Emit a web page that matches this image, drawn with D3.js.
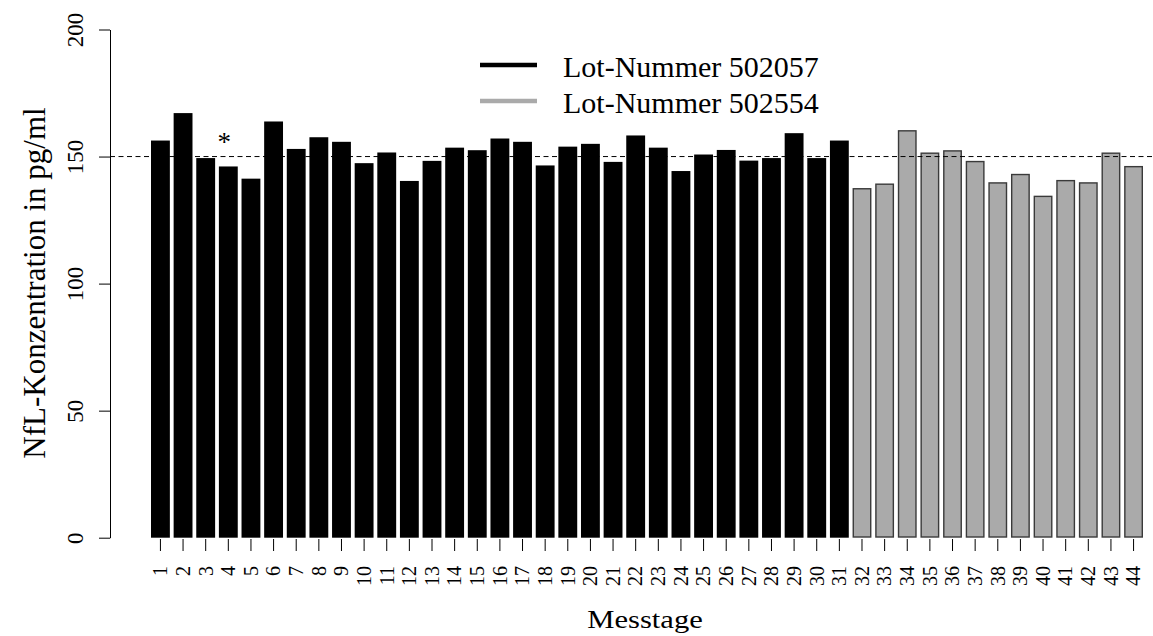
<!DOCTYPE html>
<html>
<head>
<meta charset="utf-8">
<script src="https://cdn.jsdelivr.net/npm/d3@7"></script>
<style>
  body { margin: 0; background: #fff; }
  svg text { font-family: "Liberation Serif", "DejaVu Serif", serif; fill: #000; }
</style>
</head>
<body>
<div id="chart"></div>
<script>
const days = d3.range(1, 45);
const lotA = [156.3, 167.1, 149.4, 146.1, 141.3, 163.8, 153.0, 157.6, 155.8, 147.4,
    151.6, 140.4, 148.3, 153.5, 152.5, 157.1, 155.8, 146.5, 153.9, 155.0,
    147.9, 158.3, 153.5, 144.3, 150.8, 152.6, 148.4, 149.4, 159.2, 149.4, 156.3];
const lotB = [137.6, 139.4, 160.4, 151.6, 152.5, 148.3, 139.9, 143.2, 134.6, 140.8,
    139.9, 151.6, 146.3];
const lotNames = ["Lot-Nummer 502057", "Lot-Nummer 502554"];
const yTicks = [0, 50, 100, 150, 200];
const refLine = 150;
const starDay = 4;

const data = days.map((d, i) => ({
    day: d,
    value: i < lotA.length ? lotA[i] : lotB[i - lotA.length],
    lot: i < lotA.length ? 0 : 1
}));

const serif = "Liberation Serif";
const width = 1153, height = 636;
const svg = d3.select("#chart").append("svg")
    .attr("width", width)
    .attr("height", height)
    .attr("font-family", serif);

// Scales
const xScale = d3.scaleBand()
    .domain(days)
    .range([151, 1143])
    .paddingInner(0.2 / 1.2)
    .paddingOuter(0);

const yScale = d3.scaleLinear()
    .domain([0, 200])
    .range([537.7, 29.5]);

const fillColor = ["#000000", "#aaaaaa"];
const strokeColor = ["#000000", "#3a3a3a"];

// Bars
svg.selectAll(".bar")
    .data(data)
    .enter()
    .append("rect")
    .attr("class", "bar")
    .attr("x", d => xScale(d.day) + (d.lot ? 0.7 : 0))
    .attr("y", d => yScale(d.value) + (d.lot ? 0.7 : 0))
    .attr("width", d => xScale.bandwidth() - (d.lot ? 1.4 : 0))
    .attr("height", d => yScale(0) - yScale(d.value) - (d.lot ? 1.4 : 0))
    .attr("fill", d => fillColor[d.lot])
    .attr("stroke", d => d.lot ? strokeColor[1] : "none")
    .attr("stroke-width", 1.4);

// Dashed reference line
svg.append("line")
    .attr("x1", 110)
    .attr("x2", width)
    .attr("y1", yScale(refLine))
    .attr("y2", yScale(refLine))
    .attr("stroke", "#000")
    .attr("stroke-width", 1)
    .attr("stroke-dasharray", "5,3.5");

// Y axis
const yAxis = svg.append("g")
    .attr("transform", "translate(110,0)")
    .call(d3.axisLeft(yScale).tickValues(yTicks).tickSize(11).tickSizeOuter(0).tickPadding(0));
yAxis.attr("font-family", serif).attr("font-size", null);
yAxis.select(".domain").attr("stroke", "#000").attr("stroke-width", 1);
yAxis.selectAll(".tick line").attr("stroke", "#000");
yAxis.selectAll(".tick text")
    .attr("x", 0)
    .attr("dy", 0)
    .attr("text-anchor", "middle")
    .attr("font-family", serif)
    .attr("font-size", 23)
    .attr("transform", "translate(-27,0) rotate(-90)");

// X axis (ticks at bar centres, labels vertical)
const xAxis = svg.append("g")
    .attr("transform", "translate(0,539)")
    .call(d3.axisBottom(xScale).tickSize(12).tickSizeOuter(0));
xAxis.attr("font-family", serif).attr("font-size", null);
xAxis.select(".domain").remove();
xAxis.selectAll(".tick line").attr("stroke", "#000");
xAxis.selectAll(".tick text")
    .attr("x", 0)
    .attr("y", 0)
    .attr("dy", "0.34em")
    .attr("text-anchor", "end")
    .attr("font-family", serif)
    .attr("font-size", 20)
    .attr("transform", "translate(0,27) rotate(-90)");

// Asterisk above day 4
svg.append("text")
    .attr("x", xScale(starDay) + xScale.bandwidth() / 2 - 4)
    .attr("y", 151)
    .attr("text-anchor", "middle")
    .attr("font-size", 27)
    .text("*");

// Axis titles
svg.append("text")
    .attr("transform", "translate(45,283) rotate(-90)")
    .attr("text-anchor", "middle")
    .attr("font-size", 31)
    .text("NfL-Konzentration in pg/ml");

svg.append("text")
    .attr("transform", "translate(645,628) scale(1.2,1)")
    .attr("text-anchor", "middle")
    .attr("font-size", 25.5)
    .text("Messtage");

// Legend
const legend = svg.append("g").attr("class", "legend");
lotNames.forEach((name, i) => {
    const ly = 65 + i * 36;
    legend.append("line")
        .attr("x1", 480).attr("x2", 537)
        .attr("y1", ly).attr("y2", ly)
        .attr("stroke", fillColor[i])
        .attr("stroke-width", 4.5);
    legend.append("text")
        .attr("x", 563)
        .attr("y", ly + 12)
        .attr("font-size", 30)
        .text(name);
});
</script>
</body>
</html>
